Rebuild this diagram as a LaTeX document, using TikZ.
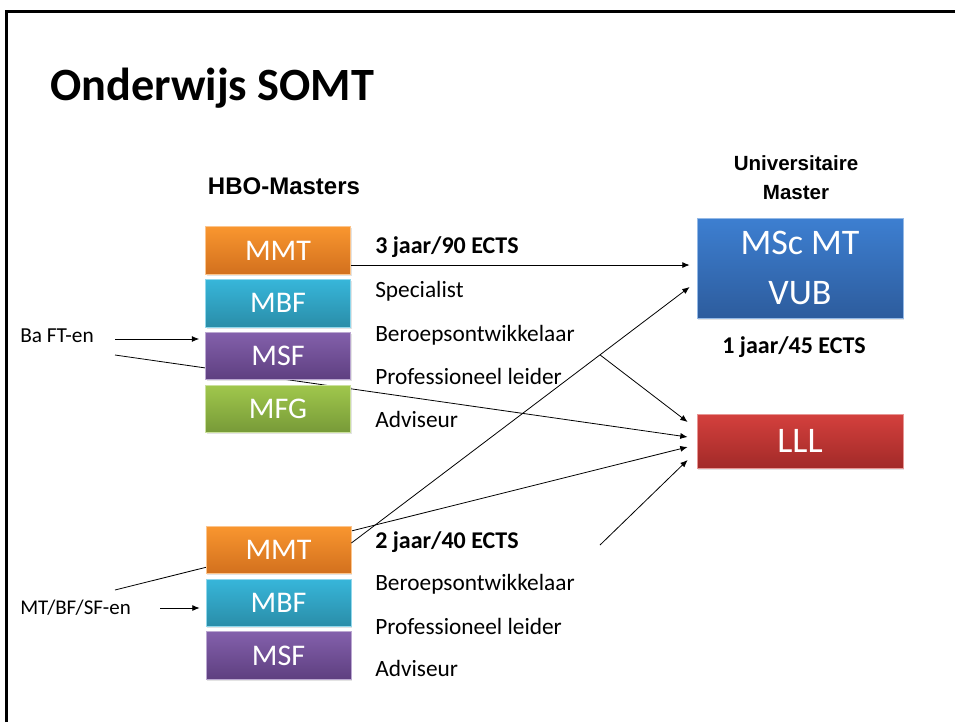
\documentclass[tikz,border=0pt]{standalone}
\usepackage{fontspec}
\setmainfont{Carlito}
\newfontfamily\arialfont{Liberation Sans}
\usetikzlibrary{positioning,arrows.meta,backgrounds,shadows}

\definecolor{mmtTop}{HTML}{F9962F}
\definecolor{mmtBot}{HTML}{D2701E}
\definecolor{mbfTop}{HTML}{37B6DA}
\definecolor{mbfBot}{HTML}{2A8DA8}
\definecolor{msfTop}{HTML}{8360AB}
\definecolor{msfBot}{HTML}{5E3F80}
\definecolor{mfgTop}{HTML}{A0C74C}
\definecolor{mfgBot}{HTML}{779A38}
\definecolor{mscTop}{HTML}{3D7FD1}
\definecolor{mscBot}{HTML}{2D5C9D}
\definecolor{lllTop}{HTML}{D4403D}
\definecolor{lllBot}{HTML}{A22A28}

\tikzset{
  prog/.style 2 args={draw=#1!55!white, line width=0.6pt, top color=#1, bottom color=#2,
    text=white, minimum width=108.75pt, minimum height=35.6pt, inner sep=0pt,
    font=\fontsize{22.5}{27}\selectfont,
    drop shadow={opacity=0.22, shadow xshift=1pt, shadow yshift=-1.2pt}},
  arr/.style={-{Latex[length=5.5pt,width=4.5pt]}, line width=0.6pt},
  role/.style={anchor=base west, inner sep=0pt, font=\fontsize{17.5}{21}\selectfont},
  rolebold/.style={anchor=base west, inner sep=0pt, font=\bfseries\fontsize{18}{21}\selectfont},
}

\begin{document}
\begin{tikzpicture}[x=0.75pt,y=-0.75pt]
  \useasboundingbox (0,0) rectangle (955,722);
  % slide frame
  \draw[line width=2.4pt] (6.5,722) -- (6.5,11.5) -- (955,11.5);
  \node[anchor=base west, inner sep=0pt, font=\bfseries\fontsize{34.7}{40}\selectfont] (title) at (50,100) {Onderwijs SOMT};

  % HBO-Masters
  \node[font=\arialfont\bfseries\fontsize{18}{21}\selectfont] (hbo) at (284,186) {HBO-Masters};
  \node[prog={mmtTop}{mmtBot}] (mmtA) at (278,250.5) {MMT};
  \node[prog={mbfTop}{mbfBot}, below=3.4pt of mmtA] (mbfA) {MBF};
  \node[prog={msfTop}{msfBot}, below=3.4pt of mbfA] (msfA) {MSF};
  \node[prog={mfgTop}{mfgBot}, below=3.4pt of msfA] (mfgA) {MFG};

  \node[prog={mmtTop}{mmtBot}] (mmtB) at (278.5,550) {MMT};
  \node[prog={mbfTop}{mbfBot}, below=3.4pt of mmtB] (mbfB) {MBF};
  \node[prog={msfTop}{msfBot}, below=3.4pt of mbfB] (msfB) {MSF};

  % universiteit
  \node[align=center, font=\arialfont\bfseries\fontsize{15.4}{21.75}\selectfont] (uni) at (796,178) {Universitaire\\Master};
  \node[prog={mscTop}{mscBot}, minimum width=154.5pt, minimum height=75pt, align=center,
    font=\fontsize{27}{37.5}\selectfont] (msc) at (800,268) {MSc MT\\VUB};
  \node[font=\bfseries\fontsize{18}{21}\selectfont] (ectsC) at (794,347) {1 jaar/45 ECTS};
  \node[prog={lllTop}{lllBot}, minimum width=154.5pt, minimum height=40.5pt,
    font=\fontsize{27}{32}\selectfont] (lll) at (800,441) {LLL};

  % rollen
  \node[rolebold] (ectsA) at (375,253) {3 jaar/90 ECTS};
  \node[role] (specA) at (375,297) {Specialist};
  \node[role] (berA) at (375,341) {Beroepsontwikkelaar};
  \node[role] (profA) at (375,384) {Professioneel leider};
  \node[role] (advA) at (375,427) {Adviseur};

  \node[rolebold] (ectsB) at (375,548) {2 jaar/40 ECTS};
  \node[role] (berB) at (375,590) {Beroepsontwikkelaar};
  \node[role] (profB) at (375,634) {Professioneel leider};
  \node[role] (advB) at (375,676) {Adviseur};

  % instroom
  \node[anchor=base west, inner sep=0pt, font=\fontsize{16}{19}\selectfont] (ba) at (20,342) {Ba FT-en};
  \node[anchor=base west, inner sep=0pt, font=\fontsize{15.7}{19}\selectfont] (mt) at (20,614) {MT/BF/SF-en};
  \coordinate (baA) at (115,339);
  \coordinate (baB) at (115,355);
  \coordinate (mtA) at (115,590);
  \coordinate (mtB) at (160,608);
  \coordinate (lllA) at (600,545);

  \draw[arr] (baA) -- ([xshift=-4.5pt]baA -| msfA.west);
  \draw[arr] (mtB) -- ([xshift=-4.5pt]mtB -| mbfB.west);
  \begin{scope}[on background layer]
    \draw[arr] (baB) -- ([xshift=-6.75pt,yshift=3pt]lll.west);
    \draw[arr] (mtA) -- ([xshift=-6.75pt,yshift=-4.5pt]lll.west);
  \end{scope}

  \draw[arr, shorten >=5.25pt] ([yshift=-10.9pt]mmtA.east) -- ([yshift=-10.9pt]mmtA.east -| msc.west);
  \draw[arr] ([yshift=5.25pt]mmtB.east) -- coordinate[pos=.735] (fork) ([xshift=-5.25pt,yshift=-14.25pt]msc.west);
  \draw[arr] (fork) -- ([xshift=-6.75pt,yshift=14.25pt]lll.west);
  \draw[arr] (lllA) -- ([xshift=-6.75pt,yshift=-14.25pt]lll.west);
\end{tikzpicture}
\end{document}
